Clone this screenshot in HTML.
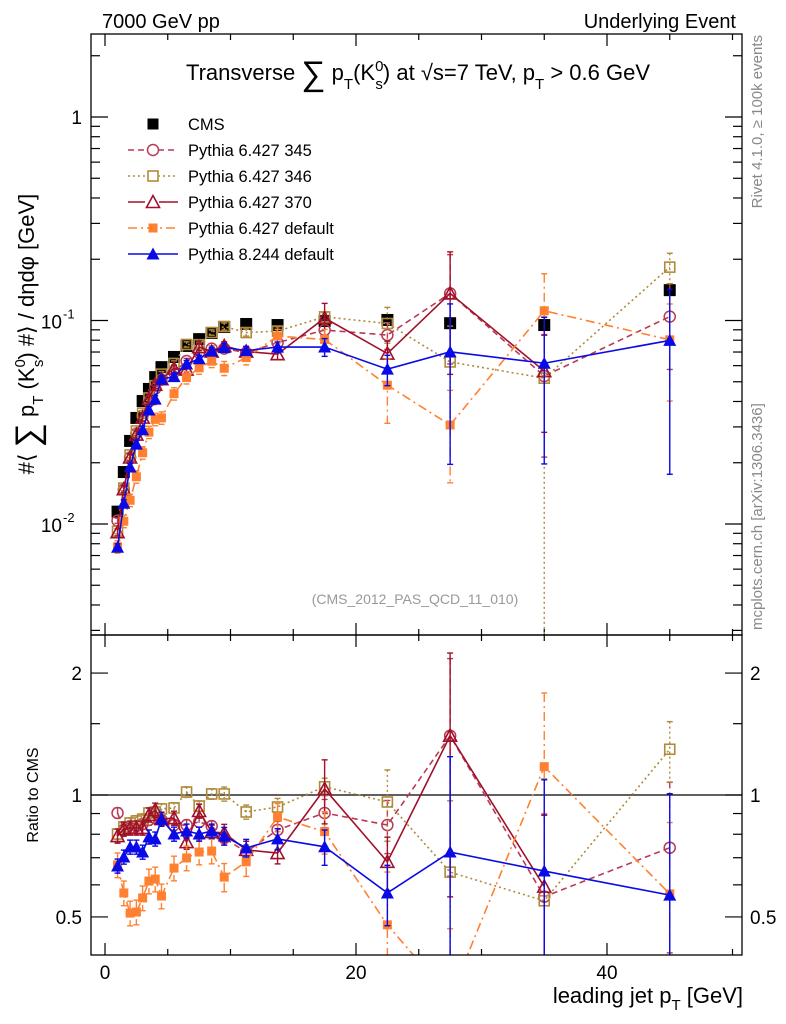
<!DOCTYPE html>
<html><head><meta charset="utf-8"><style>
html,body{margin:0;padding:0;background:#fff;width:786px;height:1024px;overflow:hidden;}
svg{display:block;font-family:"Liberation Sans",sans-serif;}
</style></head><body>
<svg id="chart" width="786" height="1024" viewBox="0 0 786 1024" xmlns="http://www.w3.org/2000/svg">
<defs>
<clipPath id="clipMain"><rect x="91" y="34" width="651" height="601"/></clipPath>
<clipPath id="clipRatio"><rect x="91" y="635" width="651" height="320"/></clipPath>
</defs>
<rect x="0" y="0" width="786" height="1024" fill="#fff"/>
<text x="102" y="28" font-size="20">7000 GeV pp</text>
<text x="736" y="28" font-size="20" text-anchor="end">Underlying Event</text>
<text x="418" y="80" font-size="22" text-anchor="middle">Transverse <tspan font-size="34" dy="5">∑</tspan><tspan dy="-5"> p</tspan><tspan font-size="15" dy="9">T</tspan><tspan dy="-9">(K</tspan><tspan font-size="15" dy="-9">0</tspan><tspan font-size="15" dx="-8" dy="18">s</tspan><tspan dy="-9">) at √s=7 TeV, p</tspan><tspan font-size="15" dy="9">T</tspan><tspan dy="-9"> &gt; 0.6 GeV</tspan></text>
<text transform="translate(34,334) rotate(-90)" font-size="22" text-anchor="middle">#⟨ <tspan font-size="34" dy="5">∑</tspan><tspan dy="-5"> p</tspan><tspan font-size="15" dy="9">T</tspan><tspan dy="-9"> (K</tspan><tspan font-size="15" dy="-9">0</tspan><tspan font-size="15" dx="-8" dy="18">s</tspan><tspan dy="-9">) #⟩ / dηdφ [GeV]</tspan></text>
<text transform="translate(762,35) rotate(-90)" font-size="15" fill="#888" text-anchor="end">Rivet 4.1.0, ≥ 100k events</text>
<text transform="translate(762,630) rotate(-90)" font-size="15" fill="#888">mcplots.cern.ch [arXiv:1306.3436]</text>
<text x="415" y="604" font-size="14" fill="#999" text-anchor="middle">(CMS_2012_PAS_QCD_11_010)</text>
<text transform="translate(38,795) rotate(-90)" font-size="16" text-anchor="middle">Ratio to CMS</text>
<text x="743" y="1003" font-size="22" text-anchor="end">leading jet p<tspan font-size="15" dy="7">T</tspan><tspan dy="-7"> [GeV]</tspan></text>
<g id="axes"></g>
<g id="mainMarks" clip-path="url(#clipMain)"></g>
<g id="ratioMarks" clip-path="url(#clipRatio)"></g>
<g id="legend"></g>
<rect x="91" y="34" width="651" height="601" fill="none" stroke="#000" stroke-width="1.3"/>
<rect x="91" y="635" width="651" height="320" fill="none" stroke="#000" stroke-width="1.3"/>
</svg>
<script>
const xVals = [1,1.5,2,2.5,3,3.5,4,4.5,5.5,6.5,7.5,8.5,9.5,11.25,13.75,17.5,22.5,27.5,35,45];
const cmsVals = [0.0115,0.0180,0.0256,0.0332,0.0402,0.0461,0.0527,0.0590,0.0662,0.075,0.081,0.0868,0.0929,0.0961,0.095,0.0994,0.1006,0.097,0.095,0.141];
const ratio345 = [0.903,0.820,0.829,0.838,0.848,0.868,0.877,0.868,0.843,0.843,0.858,0.838,0.783,0.723,0.820,0.903,0.843,1.401,0.561,0.741];
const ratio346 = [0.801,0.834,0.853,0.863,0.872,0.903,0.908,0.924,0.929,1.017,0.939,1.006,1.006,0.908,0.934,1.048,0.961,0.645,0.548,1.297];
const ratio370 = [0.792,0.824,0.829,0.829,0.829,0.893,0.918,0.872,0.877,0.765,0.913,0.810,0.806,0.732,0.719,1.035,0.684,1.401,0.594,null];
const ratioP6def = [0.672,0.573,0.511,0.514,0.557,0.613,0.620,0.563,0.660,0.699,0.723,0.727,0.627,0.684,0.882,0.812,0.478,0.316,1.175,0.570];
const ratioP8def = [0.668,0.703,0.744,0.744,0.723,0.788,0.779,0.872,0.801,0.815,0.801,0.815,0.792,0.740,0.779,0.745,0.573,0.723,0.649,0.566];
const err345 = [.03,.03,.03,.03,.03,.03,.03,.03,.03,.03,.03,.03,.04,.04,.05,.08,.15,.55,.6,.45];
const err346 = [.03,.03,.03,.03,.03,.03,.03,.03,.03,.03,.03,.03,.04,.04,.05,.05,.2,.5,1.0,.17];
const err370 = [.04,.04,.04,.04,.04,.04,.04,.04,.04,.04,.04,.04,.05,.05,.06,.18,.15,.6,.5,0];
const errP6def = [.07,.07,.07,.07,.07,.07,.07,.07,.07,.07,.07,.07,.08,.08,.08,.12,.35,.48,.52,.5];
const errP8def = [.04,.04,.04,.04,.04,.04,.04,.04,.04,.04,.04,.04,.05,.05,.06,.1,.17,.72,.68,.78];
const mainTickLabels = ["1","10","10"];
const ratioTickVals = [0.5,1,2];
const xTickVals = [0,20,40];

const NS="http://www.w3.org/2000/svg";
const X = v => 105 + v*12.55;
const YM = v => 117 - 203.5*Math.log10(v);
const YR = r => 795 - 405*Math.log10(r);
const MAIN_BOT = 635, RAT_BOT = 955;
function mk(tag, attrs, parent){ const e=document.createElementNS(NS,tag); for(const k in attrs) e.setAttribute(k,attrs[k]); parent.appendChild(e); return e; }
const axes=document.getElementById('axes');
const gM=document.getElementById('mainMarks');
const gR=document.getElementById('ratioMarks');
const gL=document.getElementById('legend');

for(let v=0; v<=50; v+=5){
  const major = v%20===0;
  const L = major?12:6;
  for(const [yb,yt] of [[955,635],[635,34]]){
    const t1=mk('line',{x1:X(v),x2:X(v),y1:yb,y2:yb-L,stroke:'#000','stroke-width':1.2},axes);
    
    
    const t2=mk('line',{x1:X(v),x2:X(v),y1:yt,y2:yt+L,stroke:'#000','stroke-width':1.2},axes);
    
    
  }
}
xTickVals.forEach(v=>{
  const t=mk('text',{x:X(v),y:979,'font-size':19,'text-anchor':'middle'},axes);
  t.textContent=String(v);
  
  
});
for(let d=-3; d<=0; d++){
  for(let m=1;m<=9;m++){
    const v=m*Math.pow(10,d); const y=YM(v);
    if(y<34||y>635) continue;
    const L = m===1?17:9;
    const a=mk('line',{x1:91,x2:91+L,y1:y,y2:y,stroke:'#000','stroke-width':1.2},axes);
    
    
    const b=mk('line',{x1:742,x2:742-L,y1:y,y2:y,stroke:'#000','stroke-width':1.2},axes);
    
    
  }
}
{
  const t=mk('text',{x:82,y:YM(1)+7,'font-size':19,'text-anchor':'end'},axes);
  t.textContent=mainTickLabels[0];
  
  
  [[0.1,'-1'],[0.01,'-2']].forEach(([v,e],i)=>{
    const tt=mk('text',{x:62,y:YM(v)+8,'font-size':19,'text-anchor':'end'},axes);
    tt.textContent=mainTickLabels[i+1];
    
    
    const s=mk('text',{x:63,y:YM(v)-2,'font-size':13},axes);
    s.textContent=e;
    
    
  });
}
[0.5,0.6,0.7,0.8,0.9,1,1.5,2].forEach(v=>{
  const y=YR(v); const L=(v===0.5||v===1||v===2)?17:9;
  const a=mk('line',{x1:91,x2:91+L,y1:y,y2:y,stroke:'#000','stroke-width':1.2},axes);
  
  
  const b=mk('line',{x1:742,x2:742-L,y1:y,y2:y,stroke:'#000','stroke-width':1.2},axes);
  
  
});
ratioTickVals.forEach(v=>{
  const a=mk('text',{x:82,y:YR(v)+7,'font-size':19,'text-anchor':'end'},axes);
  a.textContent=String(v);
  
  
  const b=mk('text',{x:750,y:YR(v)+7,'font-size':19},axes);
  b.textContent=String(v);
  
  
});
const oneLine=mk('line',{x1:91,x2:742,y1:YR(1),y2:YR(1),stroke:'#000','stroke-width':1.2},axes);



function marker(g,type,color,x,y,size){
  let e;
  if(type==='sqF'){ e=mk('rect',{x:x-size/2,y:y-size/2,width:size,height:size,fill:color},g); }
  else if(type==='sqO'){ e=mk('rect',{x:x-size/2+1,y:y-size/2+1,width:size-2,height:size-2,fill:'none',stroke:color,'stroke-width':1.6},g); }
  else if(type==='circO'){ e=mk('circle',{cx:x,cy:y,r:size/2,fill:'none',stroke:color,'stroke-width':1.5},g); }
  else if(type==='triO'){ e=mk('polygon',{points:`${x},${y-size/2-1} ${x-size/2-1},${y+size/2} ${x+size/2+1},${y+size/2}`,fill:'none',stroke:color,'stroke-width':1.6},g); }
  else { e=mk('polygon',{points:`${x},${y-size/2-1} ${x-size/2-1},${y+size/2} ${x+size/2+1},${y+size/2}`,fill:color},g); }
  return e;
}

const series=[
  {name:'p6-345',ratio:ratio345,err:err345,color:'#b83a55',dash:'6,4',m:'circO',size:11,label:'Pythia 6.427 345'},
  {name:'p6-346',ratio:ratio346,err:err346,color:'#b08a3a',dash:'2,3',m:'sqO',size:12,label:'Pythia 6.427 346'},
  {name:'p6-370',ratio:ratio370,err:err370,color:'#a0102a',dash:'',m:'triO',size:11,label:'Pythia 6.427 370'},
  {name:'p6-default',ratio:ratioP6def,err:errP6def,color:'#ff8030',dash:'9,4,2,4',m:'sqF',size:9,label:'Pythia 6.427 default'},
  {name:'p8-default',ratio:ratioP8def,err:errP8def,color:'#0a0ae6',dash:'',m:'triF',size:11,label:'Pythia 8.244 default'}
];

series.forEach(s=>{
  const ptsM=[], ptsR=[];
  xVals.forEach((xv,i)=>{
    const r=s.ratio[i]; if(r===null) return;
    const v=cmsVals[i]*r;
    ptsM.push([X(xv),YM(v),v,r,s.err[i]]);
    ptsR.push([X(xv),YR(r),v,r,s.err[i]]);
  });
  [[gM,ptsM,YM,false,MAIN_BOT],[gR,ptsR,YR,true,RAT_BOT]].forEach(([g,pts,Yf,isR,bot])=>{
    const pl=mk('polyline',{points:pts.map(p=>p[0]+','+p[1]).join(' '),fill:'none',stroke:s.color,'stroke-width':1.6,'stroke-dasharray':s.dash},g);
    
    
    pts.forEach(p=>{
      const base=isR?p[3]:p[2]; const e=p[4]*base;
      const yHi=Yf(base+e); const lo=base-e; const yLo= lo>0?Yf(lo):bot+5;
      const eb=mk('line',{x1:p[0],x2:p[0],y1:yHi,y2:yLo,stroke:s.color,'stroke-width':1.4,'stroke-dasharray':s.dash},g);
      
      
      const c1=mk('line',{x1:p[0]-3,x2:p[0]+3,y1:yHi,y2:yHi,stroke:s.color,'stroke-width':1.4},g);
      
      
      const c2=mk('line',{x1:p[0]-3,x2:p[0]+3,y1:yLo,y2:yLo,stroke:s.color,'stroke-width':1.4},g);
      
      
      const m=marker(g,s.m,s.color,p[0],p[1],s.size);
      
      
    });
  });
});
const cmsG=document.createElementNS(NS,'g');
gM.insertBefore(cmsG,gM.firstChild);
xVals.forEach((xv,i)=>{
  const m=marker(cmsG,'sqF','#000',X(xv),YM(cmsVals[i]),12);
  
  
});

const legRows=[{label:'CMS',color:'#000',m:'sqF',size:11,dash:null}].concat(series);
legRows.forEach((s,i)=>{
  const y=124+i*26;
  if(s.dash!==null){
    const l=mk('line',{x1:128,x2:178,y1:y,y2:y,stroke:s.color,'stroke-width':1.5,'stroke-dasharray':s.dash},gL);
    
    
  }
  if(s.m==='circO'||s.m==='sqO'||s.m==='triO'){ mk('rect',{x:145,y:y-7,width:14,height:14,fill:'#fff'},gL); }
  const mm=marker(gL,s.m,s.color,153,y,s.m==='sqF'&&s.color!=='#000'?9:s.size);
  
  
  const t=mk('text',{x:188,y:y+6,'font-size':16.5},gL);
  t.textContent=s.label;
  
  
});
</script>
</body></html>
